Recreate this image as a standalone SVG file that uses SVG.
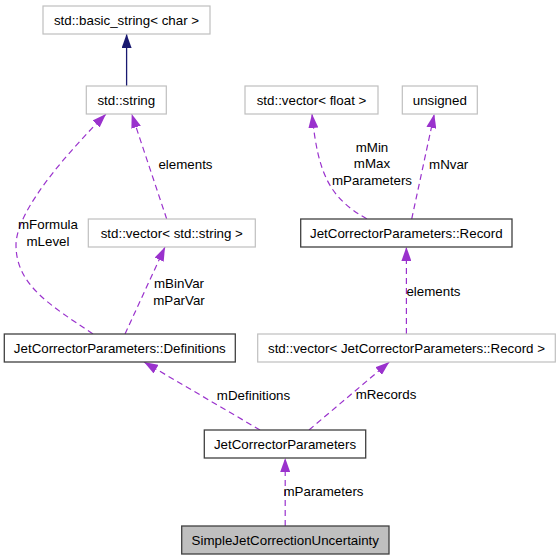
<svg xmlns="http://www.w3.org/2000/svg" width="560" height="560" viewBox="0 0 560 560">
<style>
text{font-family:"Liberation Sans",Arial,sans-serif;font-size:13.33px;fill:#000}
.n text{text-anchor:middle}
.ext{fill:#fff;stroke:#bfbfbf;stroke-width:1.2}
.cls{fill:#fff;stroke:#404040;stroke-width:1.3}
.cur{fill:#bfbfbf;stroke:#404040;stroke-width:1.3}
.e{fill:none;stroke:#9a32cd;stroke-width:1.2;stroke-dasharray:6,4;marker-end:url(#ap)}
.inh{fill:none;stroke:#191970;stroke-width:1.3;marker-end:url(#an)}
.lbl{text-anchor:middle}
</style>
<defs>
<marker id="ap" markerUnits="userSpaceOnUse" markerWidth="14" markerHeight="10" viewBox="0 0 14 10" refX="14" refY="5" orient="auto"><path d="M0,0 L14,5 L0,10 z" fill="#9a32cd"/></marker>
<marker id="an" markerUnits="userSpaceOnUse" markerWidth="14" markerHeight="10" viewBox="0 0 14 10" refX="14" refY="5" orient="auto"><path d="M0,0 L14,5 L0,10 z" fill="#191970"/></marker>
</defs>
<rect width="560" height="560" fill="#fff"/>
<g id="edges">
<path class="inh" d="M126.6,86 L126.6,34"/>
<path class="e" d="M93,334 C50,305 16,285 16,245 C16,210 70,150 106,114"/>
<path class="e" d="M166.7,219 L131.7,114"/>
<path class="e" d="M125,334 L165,247"/>
<path class="e" d="M260,430 L144,362"/>
<path class="e" d="M309,430 L389.3,362"/>
<path class="e" d="M406.4,334 L406.4,247"/>
<path class="e" d="M367,219 C330,198 318,175 312,114"/>
<path class="e" d="M411.7,219 L434.3,114"/>
<path class="e" d="M285.2,526 L285.2,458"/>
<text class="lbl" x="48" y="229">mFormula</text>
<text class="lbl" x="48" y="245.5">mLevel</text>
<text class="lbl" x="185.5" y="169">elements</text>
<text class="lbl" x="179" y="288">mBinVar</text>
<text class="lbl" x="179" y="304.5">mParVar</text>
<text class="lbl" x="253.5" y="399.5">mDefinitions</text>
<text class="lbl" x="386" y="399">mRecords</text>
<text class="lbl" x="433.5" y="295.5">elements</text>
<text class="lbl" x="372" y="151.5">mMin</text>
<text class="lbl" x="372" y="168">mMax</text>
<text class="lbl" x="372" y="184.5">mParameters</text>
<text class="lbl" x="448.7" y="169">mNvar</text>
<text class="lbl" x="323.5" y="495.5">mParameters</text>
</g>
<g id="basic_string" class="n"><rect class="ext" x="43" y="6" width="167" height="28"/><text x="126.5" y="24.7">std::basic_string&lt; char &gt;</text></g>
<g id="std_string" class="n"><rect class="ext" x="86.3" y="86" width="80" height="28"/><text x="126.3" y="104.7">std::string</text></g>
<g id="vector_float" class="n"><rect class="ext" x="245" y="86" width="133" height="28"/><text x="311.5" y="104.7">std::vector&lt; float &gt;</text></g>
<g id="unsigned" class="n"><rect class="ext" x="402.3" y="86" width="75" height="28"/><text x="439.8" y="104.7">unsigned</text></g>
<g id="vector_string" class="n"><rect class="ext" x="88.3" y="219" width="167" height="28"/><text x="171.8" y="237.7">std::vector&lt; std::string &gt;</text></g>
<g id="record" class="n"><rect class="cls" x="300.7" y="219" width="211.3" height="28"/><text x="406.3" y="237.7">JetCorrectorParameters::Record</text></g>
<g id="definitions" class="n"><rect class="cls" x="4.3" y="334" width="231" height="28"/><text x="119.8" y="352.7">JetCorrectorParameters::Definitions</text></g>
<g id="vector_record" class="n"><rect class="ext" x="257.7" y="334" width="297.6" height="28"/><text x="406.5" y="352.7">std::vector&lt; JetCorrectorParameters::Record &gt;</text></g>
<g id="jcp" class="n"><rect class="cls" x="204.3" y="430" width="161.4" height="28"/><text x="285" y="448.7">JetCorrectorParameters</text></g>
<g id="simplejet" class="n"><rect class="cur" x="181.7" y="526" width="207.3" height="28"/><text x="285.3" y="544.7">SimpleJetCorrectionUncertainty</text></g>
</svg>
